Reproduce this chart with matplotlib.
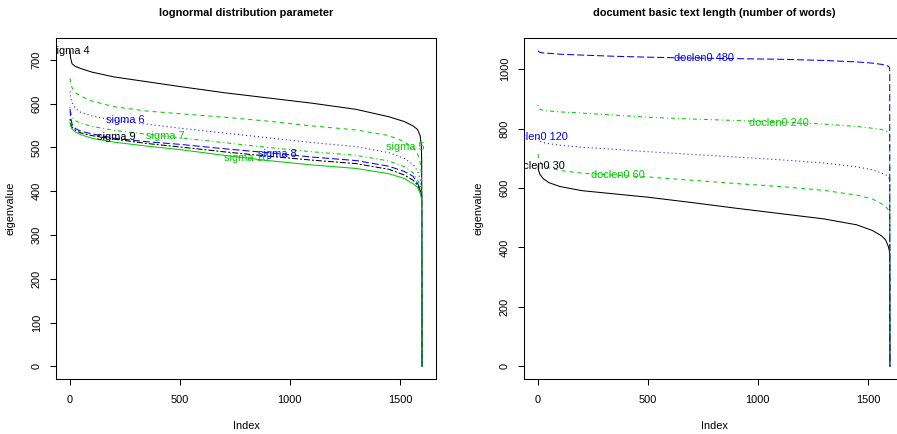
import matplotlib
matplotlib.use("Agg")
import matplotlib.pyplot as plt

# eigenvalue spectra at selected index positions
IDX = [1, 3, 10, 25, 50, 100, 200, 350, 500, 700, 900, 1100, 1300,
       1450, 1520, 1560, 1580, 1592, 1597, 1599, 1600]

# left panel: lognormal sigma
sigma_names = ["sigma 4", "sigma 5", "sigma 6", "sigma 7", "sigma 8", "sigma 9", "sigma 10"]
sigma4 = [721, 705, 691, 685, 680, 672, 661, 650, 639, 625, 613, 601, 587, 570, 559, 549, 541, 527, 505, 470, 0]
sigma5 = [658, 650, 636, 625, 617, 606, 593, 583, 577, 569, 560, 549, 540, 527, 513, 499, 486, 465, 440, 410, 0]
sigma6 = [628, 615, 602, 589, 580, 572, 562, 553, 544, 533, 522, 511, 502, 488, 475, 461, 446, 428, 410, 395, 0]
sigma7 = [592, 582, 570, 561, 555, 548, 539, 530, 522, 511, 500, 490, 482, 469, 456, 442, 426, 413, 400, 392, 0]
sigma8 = [588, 570, 553, 543, 537, 531, 521, 513, 507, 497, 488, 478, 470, 457, 445, 434, 418, 405, 396, 390, 0]
sigma9 = [565, 556, 546, 539, 533, 527, 519, 509, 501, 490, 480, 471, 463, 450, 437, 425, 414, 402, 394, 388, 0]
sigma10 = [557, 550, 542, 535, 529, 521, 512, 503, 495, 482, 470, 460, 452, 440, 429, 417, 409, 395, 385, 380, 0]
sigma_label_idx = [1, 1523, 254, 436, 943, 209, 800]
sigma_label_val = [721, 502, 563, 526, 486, 524, 476]

# right panel: document length
doclen_names = ["doclen0 30", "doclen0 60", "doclen0 120", "doclen0 240", "doclen0 480"]
doclen30 = [674, 660, 645, 631, 618, 605, 591, 580, 569, 551, 532, 514, 496, 476, 457, 440, 426, 405, 390, 380, 0]
doclen60 = [714, 700, 688, 677, 668, 659, 650, 643, 637, 626, 615, 605, 592, 576, 563, 548, 538, 527, 515, 500, 0]
doclen120 = [768, 763, 758, 753, 749, 744, 737, 730, 722, 713, 704, 695, 684, 671, 661, 651, 645, 638, 632, 625, 0]
doclen240 = [879, 872, 865, 861, 859, 856, 852, 845, 838, 832, 827, 822, 815, 807, 801, 797, 793, 788, 782, 775, 0]
doclen480 = [1062, 1059, 1056, 1054, 1053, 1050, 1047, 1043, 1040, 1037, 1035, 1033, 1029, 1024, 1020, 1016, 1013, 1010, 1006, 1000, 0]
doclen_label_idx = [1, 366, 1, 1095, 755]
doclen_label_val = [674, 643, 771, 820, 1036]

# R-like styles: colours and line types cycle
BLACK, GREEN, BLUE = "black", "#00CD00", "#0000FF"
R_LTY = {
    "solid": None,
    "dashed": (4, 4),
    "dotted": (1, 3),
    "dotdash": (1, 3, 4, 3),
    "longdash": (7, 3),
    "twodash": (2, 2, 6, 2),
}
PX = 72 / 100  # pixel -> point at dpi 100
sigma_style = [(BLACK, "solid"), (GREEN, "dashed"), (BLUE, "dotted"), (GREEN, "dotdash"),
               (BLUE, "longdash"), (BLACK, "twodash"), (GREEN, "solid")]
doclen_style = [(BLACK, "solid"), (GREEN, "dashed"), (BLUE, "dotted"), (GREEN, "dotdash"),
                (BLUE, "longdash")]

plt.rcParams["font.family"] = ["Liberation Sans", "DejaVu Sans"]
plt.rcParams["lines.scale_dashes"] = False
FS = 7.9

W, H = 897, 434
fig = plt.figure(figsize=(W / 100, H / 100), dpi=100)
ax1 = fig.add_axes([56 / W, (H - 379) / H, 380 / W, 341 / H])
ax2 = fig.add_axes([524 / W, (H - 379) / H, 380 / W, 341 / H])


def r_lim(lo, hi):
    pad = (hi - lo) * 0.04
    return lo - pad, hi + pad


def panel(ax, series, names, styles, lab_idx, lab_val, title, yticks):
    for vals, name, (col, lty), li, lv in zip(series, names, styles, lab_idx, lab_val):
        line, = ax.plot(IDX, vals, color=col, lw=0.75)
        if R_LTY[lty] is not None:
            line.set_dashes([d * PX for d in R_LTY[lty]])
        ax.text(li, lv, name, color=col, fontsize=FS, ha="center", va="center", clip_on=True)
    allv = [v for s in series for v in s]
    ax.set_xlim(*r_lim(min(IDX), max(IDX)))
    ax.set_ylim(*r_lim(min(allv), max(allv)))
    ax.set_xticks([0, 500, 1000, 1500])
    ax.set_yticks(yticks)
    ax.tick_params(direction="out", length=4.3, width=0.75, labelsize=FS, pad=7)
    ax.tick_params(axis="y", pad=6)
    for lbl in ax.get_yticklabels():
        lbl.set_rotation(90)
        lbl.set_va("center")
    for sp in ax.spines.values():
        sp.set_linewidth(0.75)
    ax.set_xlabel("Index", fontsize=FS, labelpad=12)
    ax.set_ylabel("eigenvalue", fontsize=FS, labelpad=12)
    ax.set_title(title, fontsize=FS, fontweight="bold", pad=16)


panel(ax1, [sigma4, sigma5, sigma6, sigma7, sigma8, sigma9, sigma10], sigma_names, sigma_style,
      sigma_label_idx, sigma_label_val, "lognormal distribution parameter", range(0, 701, 100))
panel(ax2, [doclen30, doclen60, doclen120, doclen240, doclen480], doclen_names, doclen_style,
      doclen_label_idx, doclen_label_val, "document basic text length (number of words)",
      range(0, 1001, 200))

fig.savefig("out.png", dpi=100)
